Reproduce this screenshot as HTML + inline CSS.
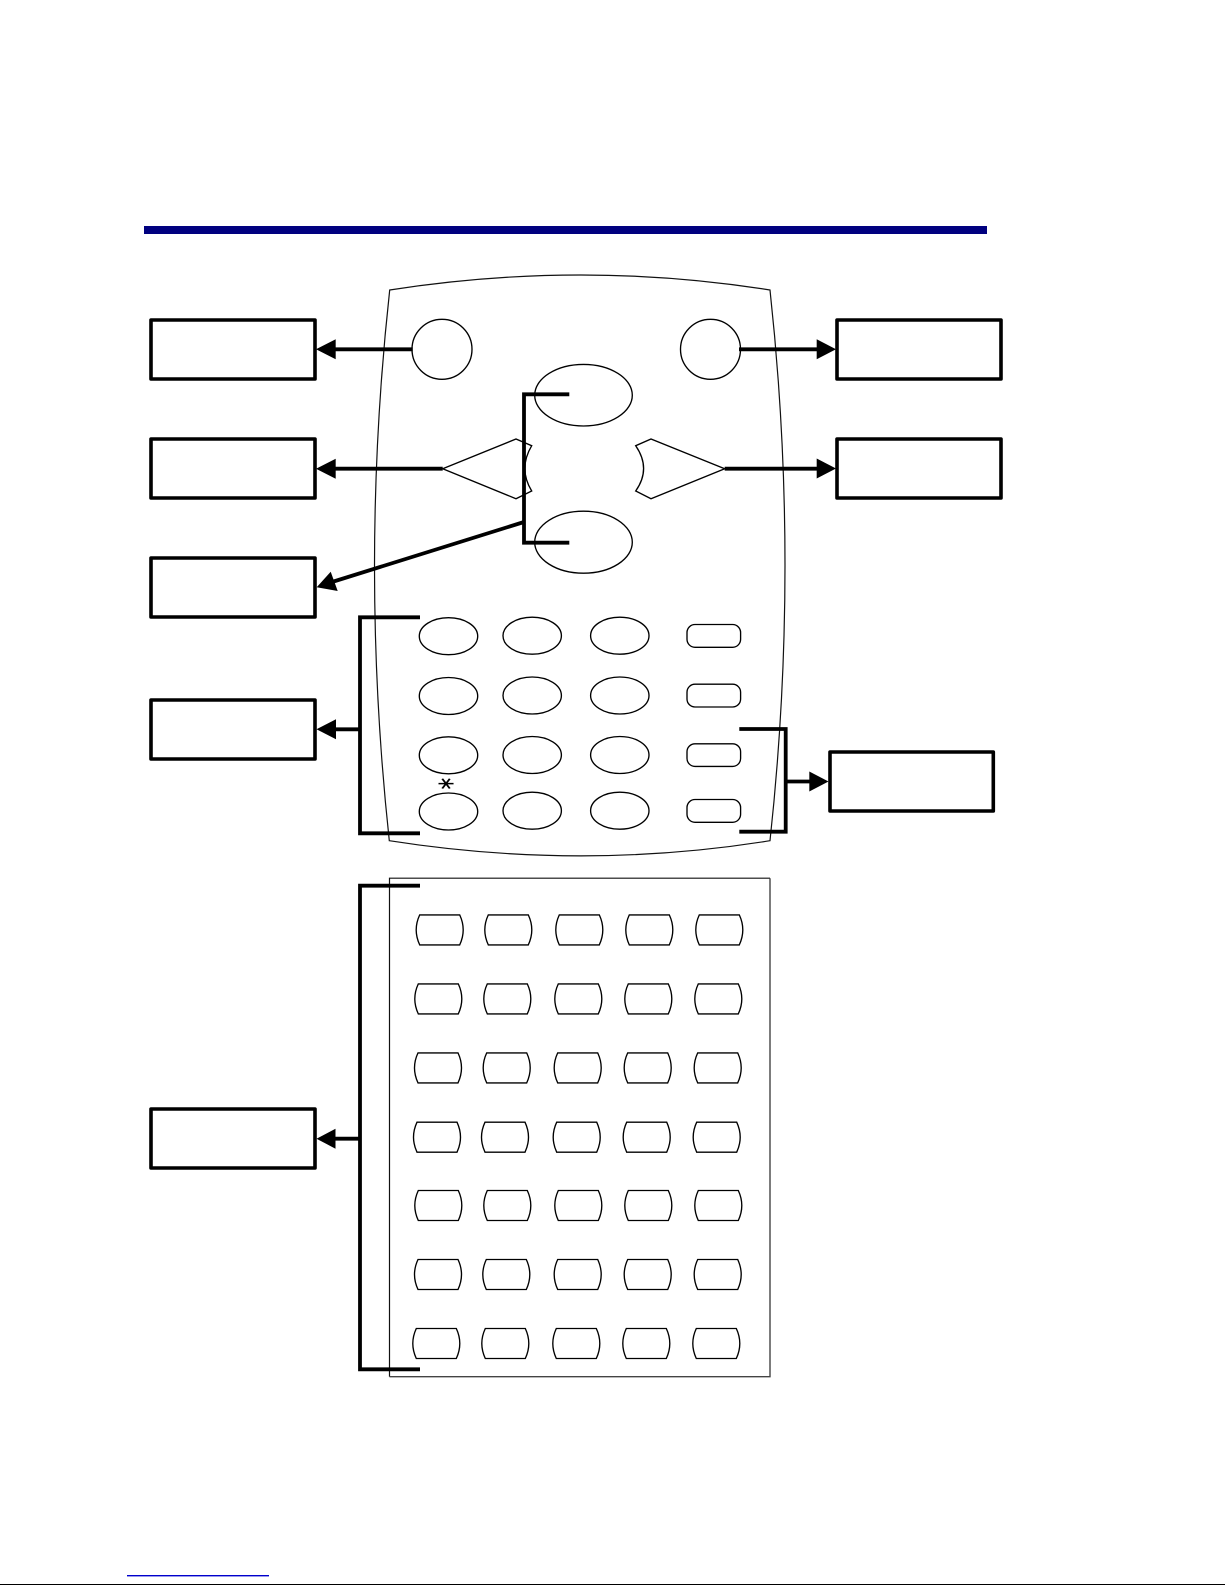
<!DOCTYPE html>
<html>
<head>
<meta charset="utf-8">
<style>
html,body{margin:0;padding:0;background:#fff;width:1225px;height:1585px;overflow:hidden}
svg{display:block;position:absolute;left:0;top:0}
</style>
</head>
<body>
<svg width="1225" height="1585" viewBox="0 0 1225 1585" xmlns="http://www.w3.org/2000/svg">
<defs>
<path id="k" d="M3.5 0.2H43.5Q50.5 15.2 43.5 30.2H3.5Q-3.5 15.2 3.5 0.2Z" fill="none" stroke="#000" stroke-width="1.35"/>
</defs>
<rect width="1225" height="1585" fill="#fff"/>
<rect x="144" y="226" width="843" height="8" fill="#00007f"/>
<rect x="127" y="1575" width="142" height="1.4" fill="#0000cc"/>
<rect x="0" y="1584" width="1225" height="1" fill="#000"/>

<!-- device body -->
<path d="M389.7 290Q582 260 770 290Q800 565 770 840.7Q582 871 389.3 840.7Q359.5 565 389.7 290Z" fill="none" stroke="#111" stroke-width="1.2"/>
<!-- panel -->
<path d="M770 878.2H389.5V1376.7" fill="none" stroke="#111" stroke-width="1.2"/>
<path d="M770 878.2V1376.7H389.5" fill="none" stroke="#444" stroke-width="1.4"/>

<!-- top buttons -->
<g fill="none" stroke="#000" stroke-width="1.35">
<circle cx="442" cy="349.3" r="30"/>
<circle cx="710.5" cy="349.3" r="30"/>
<ellipse cx="583.5" cy="395.2" rx="48.8" ry="30.8"/>
<ellipse cx="583.5" cy="542.2" rx="48.8" ry="31"/>
<path d="M442.7 468.7L516 439L531.7 445.7Q518 468.7 531.7 491L516 498.7Z"/>
<path d="M724.7 468.7L651 439L635.7 445.7Q651.5 468.7 635.7 491L651 498.7Z"/>
<!-- keypad -->
<ellipse cx="448.5" cy="636.2" rx="29.2" ry="18.5"/>
<ellipse cx="532.2" cy="635.7" rx="29.2" ry="18.5"/>
<ellipse cx="619.8" cy="635.7" rx="29.2" ry="18.5"/>
<ellipse cx="448.5" cy="696" rx="29.2" ry="18.5"/>
<ellipse cx="532.2" cy="695.5" rx="29.2" ry="18.5"/>
<ellipse cx="619.8" cy="695.5" rx="29.2" ry="18.5"/>
<ellipse cx="448.5" cy="755.3" rx="29.2" ry="18.5"/>
<ellipse cx="532.2" cy="755" rx="29.2" ry="18.5"/>
<ellipse cx="619.8" cy="755" rx="29.2" ry="18.5"/>
<ellipse cx="448.5" cy="811.5" rx="29.2" ry="18.5"/>
<ellipse cx="532.2" cy="810.7" rx="29.2" ry="18.5"/>
<ellipse cx="619.8" cy="810.7" rx="29.2" ry="18.5"/>
<rect x="687" y="624.5" width="53.6" height="22.8" rx="8"/>
<rect x="687" y="684.2" width="53.6" height="22.8" rx="8"/>
<rect x="687" y="743.8" width="53.6" height="22.6" rx="8"/>
<rect x="687" y="799.5" width="53.6" height="22.8" rx="8"/>
</g>
<text y="8" font-family="'DejaVu Sans',sans-serif" font-size="24" text-anchor="middle" fill="#000" transform="translate(446.7 783.7) rotate(90) scale(0.75 1)">∗</text>

<!-- soft keys -->
<g transform="translate(0.5 0)">
<use href="#k" x="415.7" y="914.7"/><use href="#k" x="484.3" y="914.7"/><use href="#k" x="555.3" y="914.7"/><use href="#k" x="625.3" y="914.7"/><use href="#k" x="695.3" y="914.7"/>
<use href="#k" x="414.3" y="983.7"/><use href="#k" x="483.3" y="983.7"/><use href="#k" x="554.3" y="983.7"/><use href="#k" x="624.3" y="983.7"/><use href="#k" x="694.3" y="983.7"/>
<use href="#k" x="414" y="1052.7"/><use href="#k" x="482.7" y="1052.7"/><use href="#k" x="553.7" y="1052.7"/><use href="#k" x="623.7" y="1052.7"/><use href="#k" x="693.7" y="1052.7"/>
<use href="#k" x="413" y="1122"/><use href="#k" x="481" y="1122"/><use href="#k" x="552.7" y="1122"/><use href="#k" x="622.7" y="1122"/><use href="#k" x="692.7" y="1122"/>
<use href="#k" x="414.3" y="1190.3"/><use href="#k" x="483.3" y="1190.3"/><use href="#k" x="554.3" y="1190.3"/><use href="#k" x="624.3" y="1190.3"/><use href="#k" x="694.3" y="1190.3"/>
<use href="#k" x="414" y="1259.3"/><use href="#k" x="482.3" y="1259.3"/><use href="#k" x="553.7" y="1259.3"/><use href="#k" x="623.7" y="1259.3"/><use href="#k" x="693.7" y="1259.3"/>
<use href="#k" x="412.3" y="1328.3"/><use href="#k" x="481.3" y="1328.3"/><use href="#k" x="552.3" y="1328.3"/><use href="#k" x="622.3" y="1328.3"/><use href="#k" x="692.3" y="1328.3"/>
</g>

<!-- label boxes -->
<g fill="none" stroke="#000" stroke-width="3.6" stroke-linejoin="round">
<rect x="151" y="320" width="164" height="59"/>
<rect x="151" y="439" width="164" height="59"/>
<rect x="151" y="558" width="164" height="59"/>
<rect x="151" y="700" width="164" height="59"/>
<rect x="151" y="1109" width="164" height="59"/>
<rect x="837" y="320" width="164" height="59"/>
<rect x="837" y="439" width="164" height="59"/>
<rect x="830" y="752" width="163.3" height="59"/>
</g>

<!-- connectors -->
<g fill="none" stroke="#000" stroke-width="3.8">
<path d="M412.7 349.3H330"/>
<path d="M442.7 468.7H330"/>
<path d="M739 349.3H822"/>
<path d="M724.7 468.7H822"/>
<path d="M569.3 394.3H524V542.7H569.3" stroke-linejoin="miter"/>
<path d="M524 522L332 582"/>
<path d="M420 617.3H360V833.3H420"/>
<path d="M360 729.3H330"/>
<path d="M739.3 729H785.7V831.7H739.3"/>
<path d="M785.7 781.5H815"/>
<path d="M420 885.7H360V1369.3H420"/>
<path d="M360 1138.7H330"/>
</g>
<g fill="#000" stroke="none">
<path d="M316 349.3L335.7 339.3V359.3Z"/>
<path d="M316 468.7L335.7 458.7V478.7Z"/>
<path d="M836 349.3L816.7 339.3V359.3Z"/>
<path d="M836 468.5L816.7 458.5V478.5Z"/>
<path d="M316.7 587.3L330.7 571.7L337.7 591Z"/>
<path d="M316.5 729.3L336 719.3V739.3Z"/>
<path d="M316.5 1138.7L335.5 1128.7V1148.7Z"/>
<path d="M828.5 781.5L809.3 771.5V791.5Z"/>
</g>
</svg>
</body>
</html>
